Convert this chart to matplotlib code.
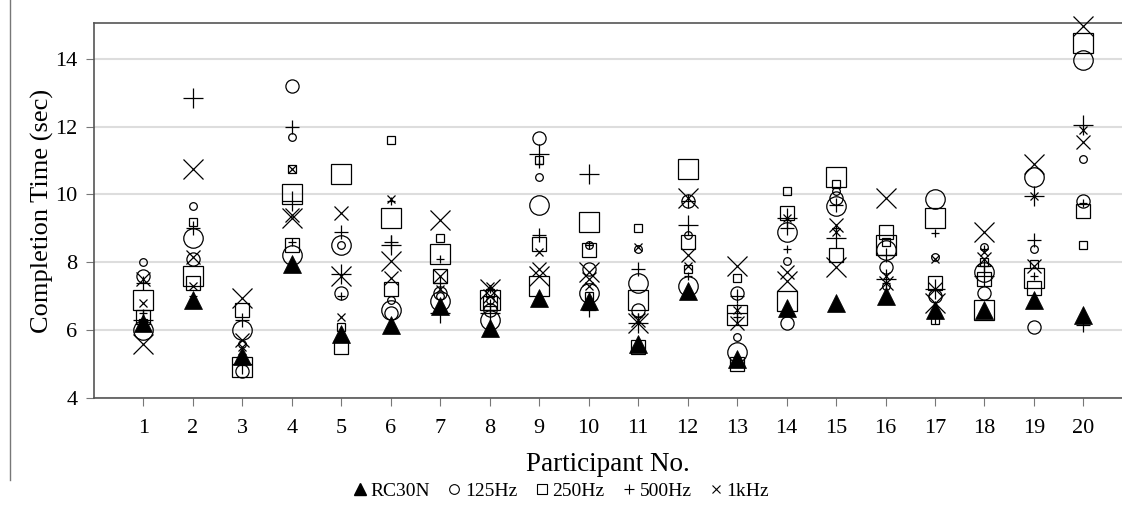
import matplotlib
matplotlib.use("Agg")
import matplotlib.pyplot as plt
from matplotlib.lines import Line2D

participants = list(range(1, 21))

rc30n = [6.2, 6.9, 5.25, 7.95, 5.9, 6.15, 6.7, 6.05, 6.95, 6.85, 5.6, 7.15, 5.15, 6.65, 6.8, 7.0, 6.6, 6.6, 6.9, 6.45]

hz125_small = [8.0, 9.65, 5.6, 11.7, 8.5, 6.9, 7.0, 6.9, 10.5, 8.5, 8.4, 8.8, 5.8, 8.05, 10.1, 7.3, 8.15, 8.45, 8.4, 11.05]
hz125_medium = [7.6, 8.1, 4.8, 13.2, 7.1, 6.5, 7.1, 6.6, 11.65, 7.8, 6.6, 9.8, 7.1, 6.2, 9.9, 7.85, 7.0, 7.1, 6.1, 9.8]
hz125_large = [6.0, 8.7, 6.0, 8.2, 8.5, 6.6, 6.85, 6.3, 9.7, 7.1, 7.4, 7.3, 5.35, 8.9, 9.65, 8.35, 9.85, 7.7, 10.5, 13.95]

hz250_small = [6.2, 9.2, 5.1, 10.75, 6.1, 11.6, 8.7, 7.1, 11.0, 7.0, 9.0, 7.8, 7.55, 10.1, 10.3, 8.6, 6.3, 8.0, 7.95, 8.5]
hz250_medium = [6.4, 7.4, 6.6, 8.5, 5.5, 7.2, 7.6, 6.8, 8.55, 8.35, 5.5, 8.6, 5.0, 9.45, 8.2, 8.9, 7.4, 7.5, 7.25, 9.5]
hz250_large = [6.9, 7.6, 4.9, 10.0, 10.6, 9.3, 8.25, 6.9, 7.3, 9.2, 6.9, 10.75, 6.45, 6.85, 10.5, 8.5, 9.3, 6.6, 7.55, 14.45]

hz500_small = [6.5, 7.0, 5.3, 8.6, 7.0, 9.8, 8.1, 7.2, 10.9, 8.5, 6.4, 7.6, 6.4, 8.4, 9.0, 7.4, 8.85, 8.4, 7.6, 9.75]
hz500_medium = [7.4, 9.0, 6.3, 12.0, 8.9, 8.6, 7.4, 6.7, 8.8, 6.6, 7.8, 9.8, 7.0, 9.0, 9.7, 8.2, 6.4, 7.9, 8.65, 6.15]
hz500_large = [6.3, 12.85, 5.0, 9.8, 7.65, 8.5, 6.5, 6.5, 11.2, 10.6, 6.2, 9.1, 6.5, 9.3, 8.7, 7.5, 7.2, 7.6, 9.95, 12.05]

khz1_small = [6.8, 7.3, 5.5, 10.75, 6.4, 9.85, 7.2, 7.3, 8.3, 7.3, 8.45, 7.9, 6.6, 9.3, 8.9, 7.6, 8.1, 8.3, 9.95, 11.9]
khz1_medium = [7.5, 8.15, 5.7, 9.4, 9.45, 7.55, 7.6, 7.0, 7.8, 7.5, 6.3, 8.2, 6.2, 7.7, 9.1, 7.4, 7.2, 8.1, 7.9, 11.55]
khz1_large = [5.6, 10.75, 6.95, 9.3, 7.6, 8.05, 9.25, 7.2, 7.6, 7.7, 6.2, 9.9, 7.9, 7.45, 7.85, 9.9, 6.8, 8.9, 10.9, 14.95]

legend_labels = ["RC30N", "125Hz", "250Hz", "500Hz", "1kHz"]

plt.rcParams['font.family'] = ['Liberation Serif', 'DejaVu Serif']

fig = plt.figure(figsize=(11.22, 5.07), dpi=100)
ax = fig.add_axes([94 / 1122, (507 - 398) / 507, (1122 - 94) / 1122, (398 - 23) / 507])

sizes = {"small": 5.5, "medium": 9.5, "large": 14}
series = [
    ("o", [(hz125_small, "small"), (hz125_medium, "medium"), (hz125_large, "large")]),
    ("s", [(hz250_small, "small"), (hz250_medium, "medium"), (hz250_large, "large")]),
    ("+", [(hz500_small, "small"), (hz500_medium, "medium"), (hz500_large, "large")]),
    ("x", [(khz1_small, "small"), (khz1_medium, "medium"), (khz1_large, "large")]),
]
for marker, groups in series:
    for vals, sz in groups:
        ax.plot(participants, vals, linestyle="none", marker=marker, ms=sizes[sz],
                mfc="none", mec="black", mew=0.9, clip_on=False, zorder=3)
ax.plot(participants, rc30n, linestyle="none", marker="^", ms=12.5, mfc="black",
        mec="black", mew=0.5, clip_on=False, zorder=4)

ax.set_xlim(0, 20.78)
ax.set_ylim(4, 15.05)
ax.set_yticks([4, 6, 8, 10, 12, 14])
ax.set_xticks(participants)
ax.yaxis.grid(True, color="#dddddd", linewidth=1.5, zorder=0)
ax.set_axisbelow(True)
for s in ["left", "bottom", "top"]:
    ax.spines[s].set_color("#555555")
    ax.spines[s].set_linewidth(1.2)
ax.spines["right"].set_visible(False)
ax.tick_params(axis="both", direction="out", length=6, color="#777777", labelsize=16, pad=6)
ax.tick_params(axis="x", pad=9)
ax.set_xlabel("Participant No.", fontsize=19.5, labelpad=10)
ax.set_ylabel("Completion Time (sec)", fontsize=19, labelpad=1)

handles = [
    Line2D([], [], linestyle="none", marker="^", ms=8, mfc="black", mec="black"),
    Line2D([], [], linestyle="none", marker="o", ms=7, mfc="none", mec="black", mew=0.8),
    Line2D([], [], linestyle="none", marker="s", ms=7, mfc="none", mec="black", mew=0.8),
    Line2D([], [], linestyle="none", marker="+", ms=7, mfc="none", mec="black", mew=0.8),
    Line2D([], [], linestyle="none", marker="x", ms=6, mfc="none", mec="black", mew=0.8),
]
fig.legend(handles, legend_labels, loc="center", bbox_to_anchor=(0.5, 1 - 491 / 507), ncol=5,
           frameon=False, fontsize=14, handlelength=0.7, handletextpad=0.2, columnspacing=0.9)

fig.add_artist(Line2D([10 / 1122, 10 / 1122], [1 - 480 / 507, 1.0], color="#777777", linewidth=1.0))

fig.savefig("out.png", dpi=100)
